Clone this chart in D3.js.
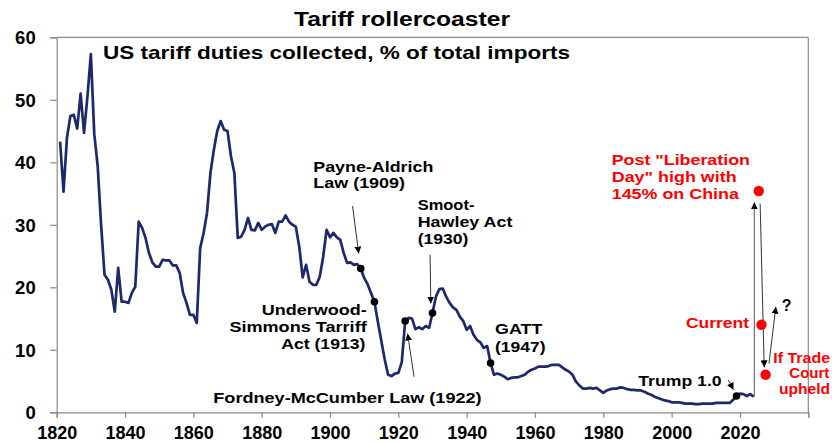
<!DOCTYPE html>
<html><head><meta charset="utf-8">
<script src="https://cdn.jsdelivr.net/npm/d3@7"></script>
<style>
html,body{margin:0;padding:0;background:#fff;}
svg{display:block;font-family:"Liberation Sans",Arial,sans-serif;font-weight:bold;}
</style></head>
<body><svg id="c" width="832" height="443"></svg>
<script>
// ---- data ----
const years = [1821,1822,1823,1824,1825,1826,1827,1828,1829,1830,1831,1832,1833,1834,1835,1836,1837,1838,1839,1840,
1841,1842,1843,1844,1845,1846,1847,1848,1849,1850,1851,1852,1853,1854,1855,1856,1857,1858,1859,1860,
1861,1862,1863,1864,1865,1866,1867,1868,1869,1870,1871,1872,1873,1874,1875,1876,1877,1878,1879,1880,
1881,1882,1883,1884,1885,1886,1887,1888,1889,1890,1891,1892,1893,1894,1895,1896,1897,1898,1899,1900,
1901,1902,1903,1904,1905,1906,1907,1908,1909,1910,1911,1912,1913,1914,1915,1916,1917,1918,1919,1920,
1921,1922,1923,1924,1925,1926,1927,1928,1929,1930,1931,1932,1933,1934,1935,1936,1937,1938,1939,1940,
1941,1942,1943,1944,1945,1946,1947,1948,1949,1950,1951,1952,1953,1954,1955,1956,1957,1958,1959,1960,
1961,1962,1963,1964,1965,1966,1967,1968,1969,1970,1971,1972,1973,1974,1975,1976,1977,1978,1979,1980,
1981,1982,1983,1984,1985,1986,1987,1988,1989,1990,1991,1992,1993,1994,1995,1996,1997,1998,1999,2000,
2001,2002,2003,2004,2005,2006,2007,2008,2009,2010,2011,2012,2013,2014,2015,2016,2017,2018,2019,2020,
2021,2022,2023,2024];
const tariff = [43.3,35.3,43.9,47.4,47.6,45.4,51.0,44.7,50.5,57.3,44.5,39.4,30.0,22.0,21.2,19.6,16.1,23.1,17.7,17.7,
17.5,19.1,20.1,30.5,29.5,27.9,25.5,24.0,23.3,23.3,24.4,24.3,24.3,23.5,23.5,22.3,19.1,17.5,15.6,15.6,
14.3,26.3,28.7,31.9,38.3,42.0,45.0,46.6,45.2,45.0,41.0,38.3,27.9,28.1,29.2,31.1,29.2,29.1,30.3,29.2,
29.7,30.0,30.1,28.7,30.5,30.5,31.5,30.5,30.0,29.7,26.5,21.6,23.6,20.9,20.4,20.4,21.7,24.9,29.2,28.0,
28.7,28.0,27.6,25.5,23.9,24.0,23.6,23.7,23.0,21.5,20.5,19.1,17.7,14.5,11.5,8.5,6.0,5.8,6.2,6.3,
8.0,14.6,15.1,15.0,13.3,13.6,13.3,13.8,13.5,15.9,18.5,19.7,19.8,18.5,17.5,16.8,16.4,15.3,14.6,13.2,
13.8,12.4,11.6,11.2,10.3,10.6,7.9,6.0,6.2,6.0,5.7,5.3,5.5,5.6,5.6,5.8,6.0,6.5,6.8,7.0,
7.3,7.3,7.3,7.4,7.6,7.6,7.6,7.2,6.8,6.5,6.0,4.9,4.3,3.8,3.8,3.9,3.8,3.9,3.5,3.1,
3.5,3.7,3.8,3.8,4.0,3.9,3.7,3.6,3.6,3.5,3.5,3.3,3.0,2.8,2.5,2.3,2.1,1.9,1.8,1.6,
1.6,1.6,1.5,1.4,1.4,1.4,1.3,1.3,1.4,1.4,1.4,1.4,1.5,1.5,1.5,1.5,1.5,2.0,2.6,3.0,
2.9,2.6,2.9,2.5];

const eventNames = ["Payne-Aldrich Law (1909)","Underwood-Simmons Tarriff Act (1913)","Fordney-McCumber Law (1922)","Smoot-Hawley Act (1930)","GATT (1947)","Trump 1.0"];
const eventYears = [1909,1913,1922,1930,1947,2019];
const eventValues = [23.0,17.7,14.6,15.9,7.9,2.6];

const scenarioNames = ['Post "Liberation Day" high with 145% on China','Current','If Trade Court upheld'];
const scenarioYears = [2025.5,2026.3,2027.5];
const scenarioValues = [35.4,14.0,6.0];

const xTicks = [1820,1840,1860,1880,1900,1920,1940,1960,1980,2000,2020,2040];
const xTickLabels = ["1820","1840","1860","1880","1900","1920","1940","1960","1980","2000","2020",""];
const yTicks = [0,10,20,30,40,50,60];

// ---- drawing ----
const svg = d3.select("#c");
const L = 56.7, R = 808.3, T = 37.3, B = 412.3;
const x = d3.scaleLinear().domain([1820,2040]).range([L,R]);
const y = d3.scaleLinear().domain([0,60]).range([B,T]);
const axisCol = "#8a8a8a";
const lineCol = "#1c2a6b";

const defs = svg.append("defs");
defs.append("marker").attr("id","ah").attr("viewBox","0 0 10 10").attr("refX",10).attr("refY",5)
  .attr("markerWidth",7).attr("markerHeight",7).attr("markerUnits","userSpaceOnUse").attr("orient","auto")
  .append("path").attr("d","M0,0L10,5L0,10z").attr("fill","#000");

// frame (top & right)
svg.append("line").attr("x1",L).attr("x2",R).attr("y1",T).attr("y2",T).attr("stroke",axisCol).attr("stroke-width",1.2);
svg.append("line").attr("x1",R).attr("x2",R).attr("y1",T).attr("y2",B).attr("stroke",axisCol).attr("stroke-width",1.2);

// axes
const gx = svg.append("g").attr("transform",`translate(0,${B})`)
  .call(d3.axisBottom(x).tickValues(xTicks).tickSize(5.5).tickPadding(0).tickFormat((d,i)=>xTickLabels[i]));
gx.select(".domain").attr("stroke",axisCol).attr("stroke-width",1.2);
gx.selectAll(".tick line").attr("stroke",axisCol).attr("stroke-width",1.2);
gx.selectAll(".tick text").attr("y",26.5).attr("dy",null).attr("fill","#000")
  .style("font-size","18px").style("font-weight","bold").style("font-family","Liberation Sans, Arial, sans-serif");

const gy = svg.append("g").attr("transform",`translate(${L},0)`)
  .call(d3.axisLeft(y).tickValues(yTicks).tickSize(6.5).tickPadding(0));
gy.select(".domain").attr("stroke",axisCol).attr("stroke-width",1.2);
gy.selectAll(".tick line").attr("stroke",axisCol).attr("stroke-width",1.2);
gy.selectAll(".tick text").attr("x",-21).attr("dy","0.36em").attr("fill","#000")
  .style("font-size","18.5px").style("font-weight","bold").style("font-family","Liberation Sans, Arial, sans-serif");

// main line
const data = years.map((yr,i)=>[yr,tariff[i]]);
svg.append("path").datum(data)
  .attr("d",d3.line().x(d=>x(d[0])).y(d=>y(d[1])))
  .attr("fill","none").attr("stroke",lineCol).attr("stroke-width",2.7).attr("stroke-linejoin","round");

// arrows (data coords)
function arrow(x1,y1,x2,y2,col){
  svg.append("line").attr("x1",x(x1)).attr("y1",y(y1)).attr("x2",x(x2)).attr("y2",y(y2))
    .attr("stroke",col||"#333").attr("stroke-width",1).attr("marker-end","url(#ah)");
}
arrow(1906.6,33.0,1908.4,25.4);   // Payne-Aldrich
arrow(1929.3,25.2,1929.5,17.4);   // Smoot-Hawley
arrow(1924.6,5.7,1922.7,12.6);    // Fordney
arrow(2016.6,5.2,2018.1,3.6);     // Trump
arrow(2024.2,2.5,2024.2,33.6,"#555"); // to Liberation day
arrow(2025.9,33.4,2027.1,7.2);    // down to trade court
arrow(2028.5,7.8,2030.5,16.9);    // up "?"

// event dots
svg.selectAll("circle.ev").data(eventYears).enter().append("circle").attr("class","ev")
  .attr("cx",(d)=>x(d)).attr("cy",(d,i)=>y(eventValues[i])).attr("r",3.8).attr("fill","#000");

// scenario dots
svg.selectAll("circle.sc").data(scenarioYears).enter().append("circle").attr("class","sc")
  .attr("cx",(d)=>x(d)).attr("cy",(d,i)=>y(scenarioValues[i])).attr("r",5.2).attr("fill","#ff0000");

// texts
function txt(s,xx,yy,anchor,len,size,col){
  const t = svg.append("text").attr("x",xx).attr("y",yy).attr("text-anchor",anchor||"start")
    .attr("fill",col||"#000").style("font-size",(size||15)+"px").text(s);
  if(len){t.attr("textLength",len).attr("lengthAdjust","spacingAndGlyphs");}
  return t;
}
txt("Tariff rollercoaster",402,26,"middle",216,19.5);
txt("US tariff duties collected, % of total imports",103,59.3,"start",467,17.7);

txt("Payne-Aldrich",313.3,171.7,"start",120);
txt("Law (1909)",313.3,188,"start",91.7);
txt("Smoot-",417.7,210,"start",56.7);
txt("Hawley Act",417.7,227.3,"start",94.7);
txt("(1930)",417.7,244.3,"start",50.7);
txt("GATT",495,334.3,"start",47.3);
txt("(1947)",495,352.3,"start",50.7);
txt("Underwood-",366.7,315,"end",105);
txt("Simmons Tarriff",366.7,331.7,"end",137.3);
txt("Act (1913)",365.5,349.3,"end",84.3);
txt("Fordney-McCumber Law (1922)",213.3,403.3,"start",268.3);
txt("Trump 1.0",638.3,386,"start",83.3);
txt("?",781.7,310.7,"start",null,16);

const red = "#ff0000";
txt('Post "Liberation',611.7,165,"start",138.3,15,red);
txt('Day" high with',611.7,181.7,"start",125,15,red);
txt("145% on China",611.7,199,"start",127.3,15,red);
txt("Current",749,327.7,"end",63,15,red);
txt("If Trade",830,363.3,"end",56.7,14,red);
txt("Court",829.3,378.3,"end",40,14,red);
txt("upheld",830,394,"end",51,14,red);
</script></body></html>
